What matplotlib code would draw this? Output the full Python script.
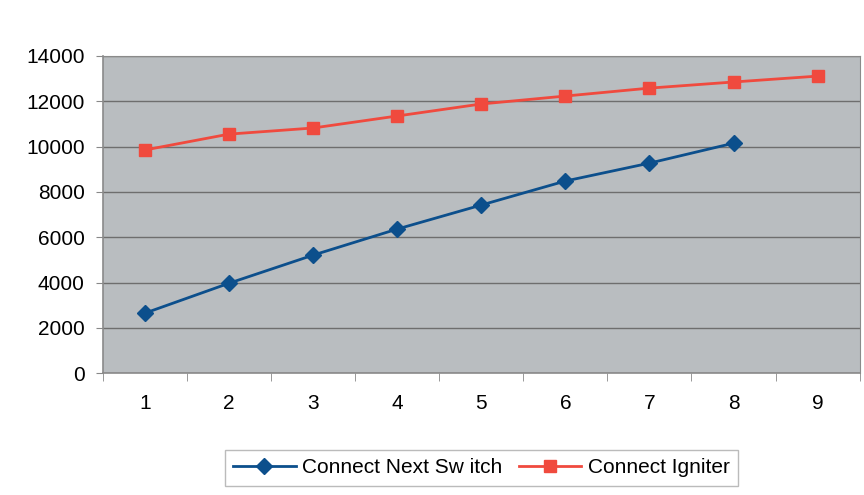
import matplotlib
matplotlib.use("Agg")
import matplotlib.pyplot as plt

plt.rcParams['font.family'] = ['Liberation Sans', 'DejaVu Sans']

categories = [1, 2, 3, 4, 5, 6, 7, 8, 9]
switch_x = [1, 2, 3, 4, 5, 6, 7, 8]
switch_vals = [2650, 3970, 5210, 6360, 7420, 8480, 9270, 10150]
igniter_vals = [9850, 10550, 10820, 11350, 11880, 12230, 12580, 12850, 13110]
yticks = [0, 2000, 4000, 6000, 8000, 10000, 12000, 14000]

fig = plt.figure(figsize=(8.64, 4.95), dpi=100)
ax = fig.add_axes([0.119, 0.246, 0.876, 0.641])
ax.set_facecolor('#b9bdc0')

ax.plot(switch_x, switch_vals, color='#0c4f8c', lw=2, marker='D', ms=8,
        label='Connect Next Sw itch', zorder=3)
ax.plot(categories, igniter_vals, color='#f04a3e', lw=2, marker='s', ms=9,
        label='Connect Igniter', zorder=3)

ax.set_xlim(0.5, 9.5)
ax.set_ylim(0, 14000)
ax.set_yticks(yticks)
ax.set_yticklabels([str(v) for v in yticks])
ax.set_xticks(categories)
ax.set_xticklabels([str(c) for c in categories])
ax.set_xticks([c + 0.5 for c in categories[:-1]] + [0.5, 9.5], minor=True)
ax.tick_params(axis='x', which='major', length=0, pad=15, labelsize=15)
ax.tick_params(axis='x', which='minor', length=6, color='#888888', direction='out')
ax.tick_params(axis='y', length=5, color='#888888', labelsize=15, pad=8)
ax.yaxis.grid(True, color='#6e6e6e', lw=1)
ax.set_axisbelow(True)
for s in ['top', 'right']:
    ax.spines[s].set_color('#8a8a8a')
for s in ['left', 'bottom']:
    ax.spines[s].set_color('#8a8a8a')
    ax.spines[s].set_linewidth(1.2)

leg = fig.legend(loc='center', bbox_to_anchor=(0.557, 0.055), ncol=2,
                 fontsize=15, frameon=True, fancybox=False, edgecolor='#aaaaaa',
                 handlelength=3, columnspacing=0.8, handletextpad=0.3,
                 borderpad=0.4)
leg.get_frame().set_linewidth(1)

fig.savefig('out.png', dpi=100)
